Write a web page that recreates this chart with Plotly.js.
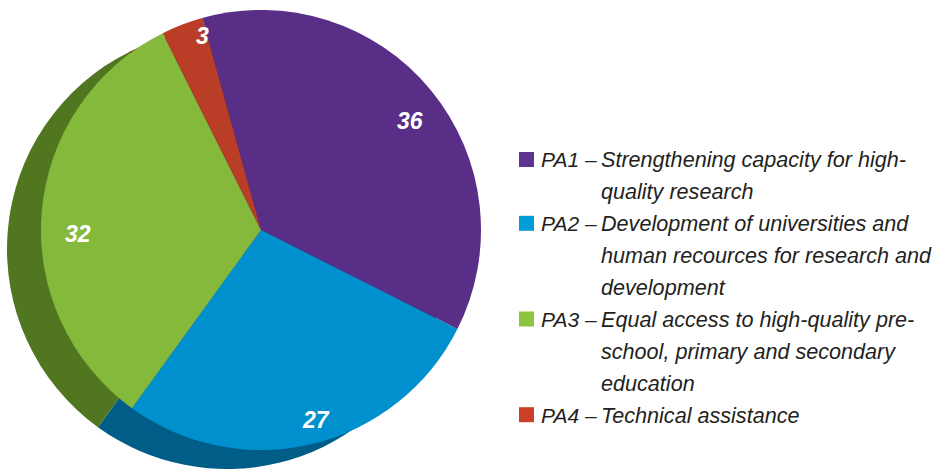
<!DOCTYPE html>
<html>
<head>
<meta charset="utf-8">
<script src="https://cdn.plot.ly/plotly-3.0.1.min.js"></script>
<style>html,body{margin:0;padding:0;background:#fff}#c{width:932px;height:471px}</style>
</head>
<body>
<div id="c"></div>
<script>
var W = 932, H = 471;
var categories = ['PA1', 'PA2', 'PA3', 'PA4'];
var values = [36, 27, 32, 3];
var sliceColors = ['#582e86', '#0090cd', '#84b93c', '#b93d27'];
var shadowColors = ['#3c1f5c', '#005d88', '#50761f', '#7f2a1b'];
var swatchColors = ['#5f3390', '#009dd9', '#8cc63f', '#cb3f2a'];
var labelPos = [[410, 121], [316, 420], [78, 234], [202, 36]];
var legendFirst = [0, 2, 5, 8];
var legendLines = [
  'Strengthening capacity for high-',
  'quality research',
  'Development of universities and',
  'human recources for research and',
  'development',
  'Equal access to high-quality pre-',
  'school, primary and secondary',
  'education',
  'Technical assistance'
];
var px = function (x) { return x / W; };
var py = function (y) { return 1 - y / H; };
var R = 220;
function pie(cx, cy, colors) {
  return {
    type: 'pie', labels: categories, values: values, sort: false,
    direction: 'clockwise', rotation: -15.5, textinfo: 'none', hoverinfo: 'label+value',
    showlegend: false,
    marker: { colors: colors, line: { width: 0 } },
    domain: { x: [px(cx - R), px(cx + R)], y: [py(cy + R), py(cy - R)] }
  };
}
var annotations = [], shapes = [];
function note(x, y, text, font, anchor) {
  annotations.push({
    xref: 'paper', yref: 'paper', x: px(x), y: py(y), text: text, showarrow: false,
    xanchor: anchor, yanchor: 'middle', borderpad: 0, borderwidth: 0, font: font
  });
}
values.forEach(function (v, i) {
  note(labelPos[i][0], labelPos[i][1], '<b><i>' + v + '</i></b>',
       { family: 'Liberation Sans', size: 23, color: '#ffffff' }, 'center');
});
var legFont = { family: 'Liberation Sans', size: 21.6, color: '#231f20' };
var prefixFont = { family: 'Liberation Sans', size: 21, color: '#231f20' };
var lineY = function (n) { return 160 + n * 31.9; };
legendLines.forEach(function (t, n) {
  note(601, lineY(n), '<i>' + t + '</i>', legFont, 'left');
});
categories.forEach(function (c, i) {
  var y = lineY(legendFirst[i]);
  note(541, y, '<i>' + c + ' –</i>', prefixFont, 'left');
  shapes.push({
    type: 'rect', xref: 'paper', yref: 'paper', line: { width: 0 }, fillcolor: swatchColors[i],
    x0: px(519), x1: px(534), y0: py(y - 8), y1: py(y + 7)
  });
});
Plotly.newPlot('c', [pie(227, 249, shadowColors), pie(261, 230, sliceColors)], {
  width: W, height: H, margin: { l: 0, r: 0, t: 0, b: 0 },
  paper_bgcolor: '#ffffff', annotations: annotations, shapes: shapes, showlegend: false
}, { displayModeBar: false, staticPlot: true });
</script>
</body>
</html>
